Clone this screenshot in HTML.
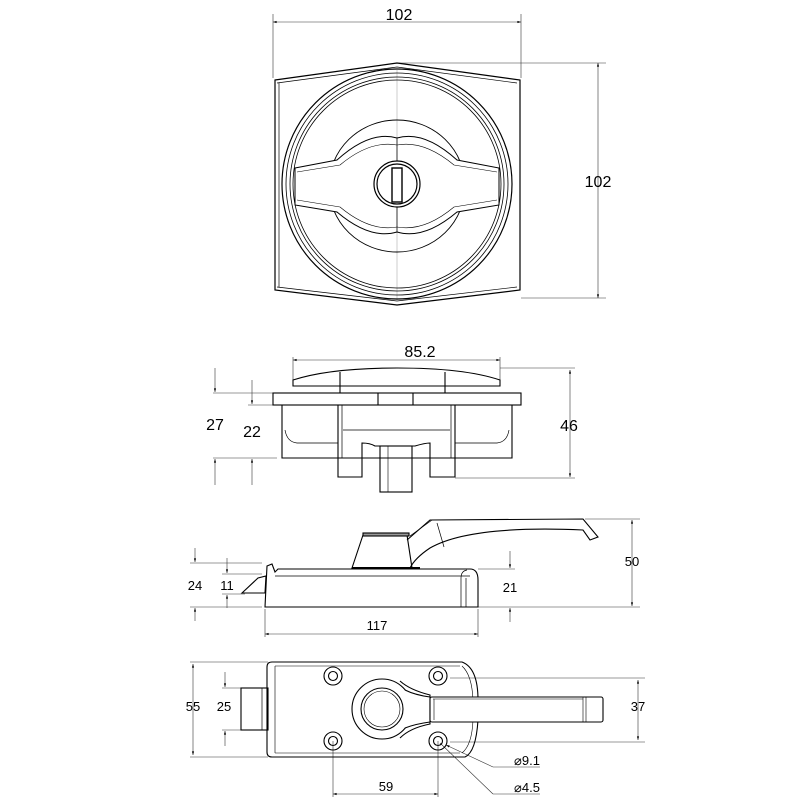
<!DOCTYPE html>
<html><head><style>html,body{margin:0;padding:0;background:#fff}svg{display:block}</style></head><body>
<svg width="800" height="800" viewBox="0 0 800 800" xmlns="http://www.w3.org/2000/svg" font-family="Liberation Sans, sans-serif" font-size="16" fill="none" stroke="#000">
<defs><marker id="a" viewBox="0 0 10 10" refX="10" refY="5" markerWidth="8" markerHeight="6" orient="auto-start-reverse"><path d="M0,2 L10,5 L0,8 z" fill="#000" stroke="none"/></marker></defs>
<g stroke-width="0.6" stroke="#333">
<line x1="273" y1="14" x2="273" y2="78"/><line x1="521" y1="14" x2="521" y2="78"/>
<line x1="273" y1="22" x2="521" y2="22" marker-start="url(#a)" marker-end="url(#a)"/>
<line x1="397" y1="63" x2="606" y2="63"/><line x1="521" y1="298" x2="606" y2="298"/>
<line x1="598" y1="63" x2="598" y2="298" marker-start="url(#a)" marker-end="url(#a)"/>
<line x1="397" y1="70" x2="397" y2="300" stroke="#aaa"/>
</g>
<g fill="#000" stroke="none" text-anchor="middle">
<text x="399" y="20">102</text><text x="598" y="187">102</text>
<text x="420" y="357">85.2</text><text x="569" y="431">46</text><text x="215" y="430">27</text><text x="252" y="437">22</text>
<text x="632" y="566" font-size="13">50</text><text x="195" y="590" font-size="13">24</text><text x="227" y="590" font-size="13">11</text><text x="510" y="592" font-size="13">21</text><text x="377" y="630" font-size="13">117</text>
<text x="193" y="711" font-size="13">55</text><text x="224" y="711" font-size="13">25</text><text x="638" y="711" font-size="13">37</text><text x="386" y="791" font-size="13">59</text>
<text x="527" y="765" font-size="13">⌀9.1</text><text x="527" y="792" font-size="13">⌀4.5</text>
</g>
<g stroke-width="1.2">
<path d="M275,80 L397,63 L520,80 L520,290 L397,305 L275,290 Z"/>
<path d="M277,83 L397,67 L517,83" stroke-width="0.7"/><path d="M277,287 L397,301 L517,287" stroke-width="0.7"/>
<line x1="279" y1="83" x2="279" y2="287" stroke-width="0.7"/>
<circle cx="397" cy="184" r="115"/><circle cx="397" cy="184" r="111" stroke-width="0.8"/><circle cx="397" cy="184" r="107" stroke-width="0.8"/><circle cx="397" cy="184" r="104" stroke-width="0.8"/>
<ellipse cx="397" cy="186" rx="68" ry="66" stroke-width="0.9"/>
<path d="M295,168 L337,160 Q370,130 397,138 Q424,130 457,160 L499,168 L499,205 L457,212 Q424,240 397,232 Q370,240 337,212 L295,205 Z" fill="#fff" stroke-width="1"/>
<path d="M297,172 L340,165 Q370,140 397,145 Q424,140 454,165 L497,172" stroke-width="0.6"/>
<path d="M297,200 L340,207 Q370,232 397,227 Q424,232 454,207 L497,200" stroke-width="0.6"/>
<line x1="397" y1="138" x2="397" y2="232" stroke-width="0.8"/>
<circle cx="397" cy="184" r="23" fill="#fff"/><circle cx="397" cy="184" r="20"/>
<rect x="392" y="168" width="10" height="34" fill="#fff" stroke-width="1.4"/>
</g>
<g stroke-width="0.6" stroke="#333">
<line x1="293" y1="357" x2="293" y2="382"/><line x1="500" y1="357" x2="500" y2="382"/>
<line x1="293" y1="360" x2="500" y2="360" marker-start="url(#a)" marker-end="url(#a)"/>
<line x1="500" y1="368" x2="575" y2="368"/><line x1="455" y1="478" x2="575" y2="478"/>
<line x1="570" y1="370" x2="570" y2="477" marker-start="url(#a)" marker-end="url(#a)"/>
<line x1="213" y1="393" x2="273" y2="393"/><line x1="248" y1="405" x2="273" y2="405"/><line x1="213" y1="458" x2="277" y2="458"/>
<line x1="215" y1="368" x2="215" y2="392" marker-end="url(#a)"/><line x1="215" y1="485" x2="215" y2="459" marker-end="url(#a)"/>
<line x1="252" y1="380" x2="252" y2="404" marker-end="url(#a)"/><line x1="252" y1="485" x2="252" y2="459" marker-end="url(#a)"/>
</g>
<g stroke-width="1.1">
<path d="M293,380 Q330,368 397,368 Q464,368 500,380 L500,386 L293,386 Z"/>
<line x1="340" y1="372" x2="340" y2="393"/><line x1="445" y1="372" x2="445" y2="393"/>
<rect x="273" y="393" width="248" height="12"/>
<line x1="378" y1="393" x2="378" y2="405"/><line x1="413" y1="393" x2="413" y2="405"/>
<path d="M282,405 L282,458 L512,458 L512,405"/>
<path d="M285,430 Q287,442 297,443 L338,443" stroke-width="0.7"/><path d="M509,430 Q507,442 497,443 L455,443" stroke-width="0.7"/>
<line x1="343" y1="430" x2="450" y2="430" stroke-width="0.7"/>
<path d="M338,405 L338,477 L362,477 L362,443 Q370,443 375,446 L415,446 Q425,443 430,443 L430,477 L455,477 L455,405"/>
<line x1="342" y1="405" x2="342" y2="458" stroke-width="0.7"/><line x1="451" y1="405" x2="451" y2="458" stroke-width="0.7"/>
<rect x="380" y="446" width="32" height="46"/><line x1="388" y1="446" x2="388" y2="492" stroke-width="0.6"/>
</g>
<g stroke-width="0.6" stroke="#333">
<line x1="190" y1="563" x2="262" y2="563"/><line x1="222" y1="574" x2="262" y2="574"/><line x1="222" y1="594" x2="245" y2="594"/><line x1="190" y1="607" x2="262" y2="607"/>
<line x1="195" y1="548" x2="195" y2="562" marker-end="url(#a)"/><line x1="195" y1="621" x2="195" y2="608" marker-end="url(#a)"/>
<line x1="227" y1="558" x2="227" y2="573" marker-end="url(#a)"/><line x1="227" y1="608" x2="227" y2="595" marker-end="url(#a)"/>
<line x1="478" y1="569" x2="515" y2="569"/><line x1="478" y1="607" x2="640" y2="607"/>
<line x1="510" y1="551" x2="510" y2="568" marker-end="url(#a)"/><line x1="510" y1="622" x2="510" y2="608" marker-end="url(#a)"/>
<line x1="585" y1="519" x2="640" y2="519"/>
<line x1="632" y1="520" x2="632" y2="606" marker-start="url(#a)" marker-end="url(#a)"/>
<line x1="265" y1="609" x2="265" y2="637"/><line x1="478" y1="609" x2="478" y2="637"/>
<line x1="265" y1="634" x2="478" y2="634" marker-start="url(#a)" marker-end="url(#a)"/>
</g>
<g stroke-width="1.1">
<path d="M265,607 L267,566 L272,564 L275,572 L278,569 L470,569 Q478,569 478,580 L478,607 Z"/>
<line x1="275" y1="576" x2="470" y2="576" stroke-width="0.7"/>
<path d="M461,607 L461,578 Q461,571 467,570" stroke-width="0.7"/><path d="M466,607 L466,578" stroke-width="0.7"/>
<path d="M242,593 L258,578 L266,576 L265,593 Z"/>
<path d="M352,568 L363,535 L407,535 L412,568 Z"/>
<rect x="363" y="533" width="46" height="3" fill="#999"/>
<path d="M407,540 L430,520 L583,519 L598,537 L590,540 L583,530 Q470,525 430,548 Q415,558 410,568"/>
<path d="M410,536 L432,520" stroke-width="0.7"/><path d="M437,523 L444,547" stroke-width="0.7"/>
<line x1="352" y1="568" x2="420" y2="568" stroke-width="2"/>
</g>
<g stroke-width="0.6" stroke="#333">
<line x1="190" y1="662" x2="268" y2="662"/><line x1="190" y1="757" x2="268" y2="757"/>
<line x1="193" y1="664" x2="193" y2="755" marker-start="url(#a)" marker-end="url(#a)"/>
<line x1="222" y1="688" x2="241" y2="688"/><line x1="222" y1="730" x2="241" y2="730"/>
<line x1="225" y1="672" x2="225" y2="687" marker-end="url(#a)"/><line x1="225" y1="746" x2="225" y2="731" marker-end="url(#a)"/>
<line x1="450" y1="678" x2="645" y2="678"/><line x1="450" y1="742" x2="645" y2="742"/>
<line x1="638" y1="680" x2="638" y2="740" marker-start="url(#a)" marker-end="url(#a)"/>
<line x1="333" y1="741" x2="333" y2="797"/><line x1="438" y1="741" x2="438" y2="797"/>
<line x1="333" y1="794" x2="438" y2="794" marker-start="url(#a)" marker-end="url(#a)"/>
<line x1="493" y1="767" x2="540" y2="767"/><line x1="493" y1="767" x2="446" y2="745" marker-end="url(#a)"/>
<line x1="493" y1="794" x2="540" y2="794"/><line x1="493" y1="794" x2="440" y2="743"/>
</g>
<g stroke-width="1.1">
<rect x="241" y="688" width="27" height="42"/><line x1="262" y1="688" x2="262" y2="730" stroke-width="0.7"/>
<path d="M272,662 L462,662 Q478,668 478,700 L478,720 Q476,752 465,757 L272,757 Q267,757 267,752 L267,667 Q267,662 272,662 Z"/>
<path d="M275,666 L460,666 M275,753 L460,753 M275,666 L275,753" stroke-width="0.6"/>
<path d="M462,666 Q472,675 473,700 L473,720 Q472,745 462,753" stroke-width="0.6"/>
<circle cx="333" cy="676" r="9"/><circle cx="333" cy="676" r="4.5"/>
<circle cx="438" cy="676" r="9"/><circle cx="438" cy="676" r="4.5"/>
<circle cx="333" cy="741" r="9"/><circle cx="333" cy="741" r="4.5"/>
<circle cx="438" cy="741" r="9"/><circle cx="438" cy="741" r="4.5"/>
<path d="M400,681 Q410,690 430,695 L430,724 Q410,728 400,738"/>
<circle cx="382" cy="709" r="30" fill="#fff"/>
<path d="M405,690 Q415,695 430,697 L430,722 Q415,724 405,728" fill="#fff"/>
<circle cx="382" cy="709" r="21"/><circle cx="382" cy="709" r="18" stroke-width="0.6"/>
<rect x="430" y="697" width="173" height="25" rx="2" fill="#fff"/>
<line x1="434" y1="699" x2="434" y2="720" stroke-width="0.6"/><line x1="433" y1="699" x2="583" y2="699" stroke-width="0.6"/><line x1="583" y1="697" x2="583" y2="722" stroke-width="0.6"/><line x1="586" y1="697" x2="586" y2="722" stroke-width="0.6"/>
</g>
</svg>
</body></html>
